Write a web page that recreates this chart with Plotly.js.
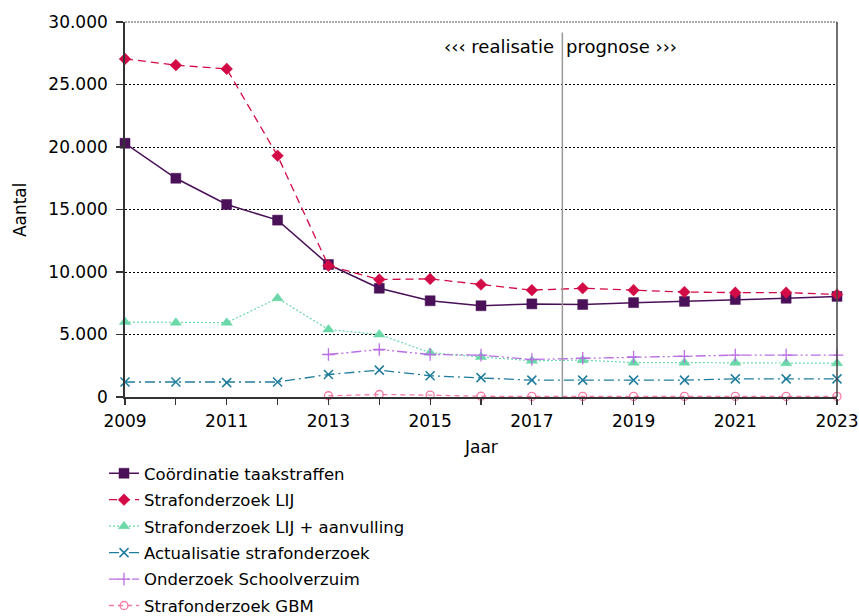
<!DOCTYPE html>
<html>
<head>
<meta charset="utf-8">
<script src="https://cdn.plot.ly/plotly-3.0.1.min.js"></script>
<style>html,body{margin:0;padding:0;background:#fff;}#chart{width:859px;height:616px;}</style>
</head>
<body>
<div id="chart"></div>
<script>
const years = [2009, 2010, 2011, 2012, 2013, 2014, 2015, 2016, 2017, 2018, 2019, 2020, 2021, 2022, 2023];
const yearsFrom2013 = [2013, 2014, 2015, 2016, 2017, 2018, 2019, 2020, 2021, 2022, 2023];
const seriesNames = ["Coördinatie taakstraffen", "Strafonderzoek LIJ", "Strafonderzoek LIJ + aanvulling",
  "Actualisatie strafonderzoek", "Onderzoek Schoolverzuim", "Strafonderzoek GBM"];
const coordinatie = [20300, 17500, 15400, 14150, 10600, 8700, 7700, 7300, 7450, 7400, 7550, 7650, 7800, 7900, 8050];
const lij = [27050, 26550, 26250, 19300, 10500, 9400, 9450, 9000, 8550, 8700, 8550, 8400, 8350, 8350, 8200];
const lijAanvulling = [6000, 5950, 5950, 7900, 5400, 5000, 3550, 3200, 2900, 2950, 2750, 2750, 2750, 2700, 2700];
const actualisatie = [1200, 1200, 1150, 1200, 1800, 2150, 1700, 1550, 1350, 1350, 1350, 1350, 1450, 1450, 1450];
const schoolverzuim = [3400, 3800, 3400, 3350, 3000, 3100, 3200, 3250, 3350, 3350, 3350];
const gbm = [100, 200, 150, 60, 50, 50, 50, 50, 50, 50, 50];
const yTickVals = [0, 5000, 10000, 15000, 20000, 25000, 30000];
const xTickVals = [2009, 2011, 2013, 2015, 2017, 2019, 2021, 2023];
const dividerYear = 2017.6;
const leftLabel = "‹‹‹ realisatie";
const rightLabel = "prognose ›››";
const yTitle = "Aantal";
const xTitle = "Jaar";

const FONT = "DejaVu Sans, Verdana, sans-serif";

function tr(name, x, y, color, dash, width, symbol, msize, mline, group) {
  return {
    type: "scatter", mode: "lines+markers", name: name, x: x, y: y,
    legendgroup: group,
    line: {color: color, dash: dash, width: width},
    marker: {symbol: symbol, size: msize, color: color, line: {color: color, width: mline}},
    cliponaxis: false
  };
}

const data = [
  tr(seriesNames[0], years, coordinatie, "#4A1158", "solid", 1.5, "square", 10, 0.5, "g0"),
  tr(seriesNames[1], years, lij, "#D20A45", "8px,5px", 1.3, "diamond", 9, 0.5, "g1"),
  tr(seriesNames[2], years, lijAanvulling, "#6AD8A8", "2px,2px", 1.2, "triangle-up", 10, 0.5, "g2"),
  tr(seriesNames[3], years, actualisatie, "#1E7C9C", "10px,4px,2px,4px", 1.3, "x-thin-open", 9, 1.5, "g3"),
  tr(seriesNames[4], yearsFrom2013, schoolverzuim, "#B96EE2", "10px,3px,2px,3px,2px,3px", 1.3, "cross-thin-open", 9, 1.3, "g4"),
  tr(seriesNames[5], yearsFrom2013, gbm, "#F57AA6", "5px,4px", 1.3, "circle-open", 8, 1.3, "g5")
];

const layout = {
  width: 859, height: 616,
  margin: {l: 125, r: 22, t: 22, b: 219, autoexpand: false},
  paper_bgcolor: "#fff", plot_bgcolor: "#fff",
  font: {family: FONT, size: 17, color: "#000"},
  separators: ",.",
  showlegend: true,
  legend: {
    xref: "container", yref: "container",
    x: 0.1211, y: 0.2597, xanchor: "left", yanchor: "top",
    font: {family: FONT, size: 16.5, color: "#000"},
    traceorder: "grouped", tracegroupgap: 2,
    bgcolor: "rgba(0,0,0,0)", borderwidth: 0
  },
  xaxis: {
    range: [2009, 2023],
    tickvals: xTickVals,
    ticks: "outside", ticklen: 6, tickwidth: 1.2, tickcolor: "#333",
    minor: {dtick: 1, ticks: "outside", ticklen: 6, tickwidth: 1.2, tickcolor: "#333", showgrid: false},
    showline: true, linecolor: "#333", linewidth: 1.8,
    showgrid: false, zeroline: false, ticklabelstandoff: 2,
    tickfont: {family: FONT, size: 17, color: "#000"}
  },
  yaxis: {
    range: [0, 30000],
    tickvals: yTickVals, tickformat: ",d",
    ticks: "outside", ticklen: 7, tickwidth: 1.2, tickcolor: "#333",
    showline: true, linecolor: "#333", linewidth: 1.8,
    showgrid: true, gridcolor: "#000", gridwidth: 1, griddash: "2px,2px",
    zeroline: false, ticklabelstandoff: 5,
    tickfont: {family: FONT, size: 17, color: "#000"}
  },
  shapes: [
    {type: "line", xref: "paper", yref: "paper", x0: 1, x1: 1, y0: 0, y1: 1,
     line: {color: "#444", width: 1.5}},
    {type: "line", xref: "paper", yref: "paper", x0: 0, x1: 1, y0: 1, y1: 1,
     line: {color: "#555", width: 1.2, dash: "2px,1px"}},
    {type: "line", xref: "x", yref: "paper", x0: dividerYear, x1: dividerYear, y0: 0, y1: 0.972,
     line: {color: "#999", width: 1.5}}
  ],
  annotations: [
    {xref: "x", yref: "paper", x: dividerYear, y: 0.935, xanchor: "right", yanchor: "middle",
     xshift: -6, showarrow: false, text: leftLabel, font: {family: FONT, size: 18, color: "#000"}},
    {xref: "x", yref: "paper", x: dividerYear, y: 0.935, xanchor: "left", yanchor: "middle",
     xshift: 2, showarrow: false, text: rightLabel, font: {family: FONT, size: 18, color: "#000"}},
    {xref: "paper", yref: "paper", x: -0.148, y: 0.5, xanchor: "center", yanchor: "middle",
     textangle: -90, showarrow: false, text: yTitle, font: {family: FONT, size: 17, color: "#000"}},
    {xref: "paper", yref: "paper", x: 0.5, y: -0.133, xanchor: "center", yanchor: "middle",
     showarrow: false, text: xTitle, font: {family: FONT, size: 17, color: "#000"}}
  ]
};

Plotly.newPlot("chart", data, layout, {displayModeBar: false, staticPlot: true});
</script>
</body>
</html>
